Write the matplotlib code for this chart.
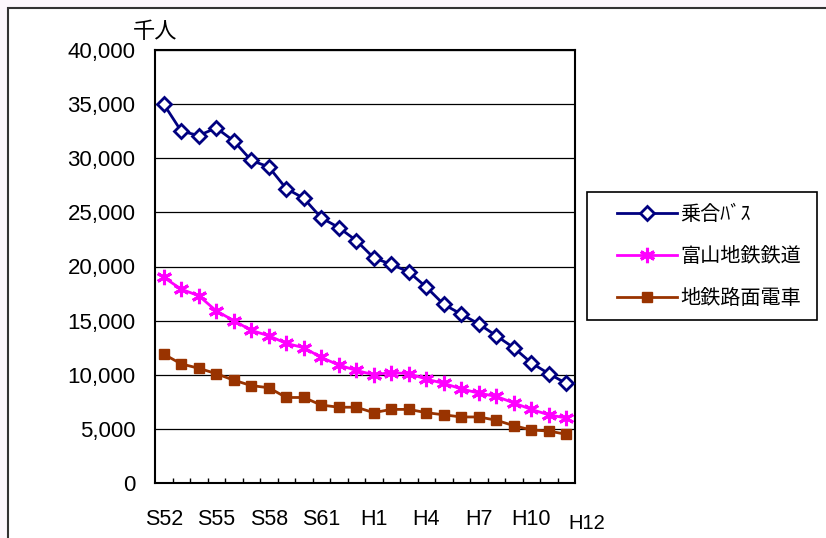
import matplotlib
matplotlib.use('Agg')
import matplotlib.pyplot as plt
from matplotlib.patches import Rectangle
from matplotlib.ticker import FuncFormatter, FixedLocator
import numpy as np

plt.rcParams['font.family'] = ['Liberation Sans', 'Noto Sans CJK JP', 'DejaVu Sans']

# ---- data (thousand persons) ----
years = ['S52', 'S53', 'S54', 'S55', 'S56', 'S57', 'S58', 'S59', 'S60', 'S61', 'S62', 'S63',
         'H1', 'H2', 'H3', 'H4', 'H5', 'H6', 'H7', 'H8', 'H9', 'H10', 'H11', 'H12']
bus = [35000, 32500, 32100, 32800, 31600, 29800, 29200, 27200, 26300, 24500, 23600, 22400,
       20800, 20200, 19500, 18100, 16500, 15600, 14700, 13600, 12500, 11100, 10100, 9200]
rail = [19000, 17900, 17300, 15900, 15000, 14100, 13600, 12900, 12500, 11600, 10900, 10400,
        10000, 10200, 10100, 9600, 9200, 8700, 8300, 8000, 7400, 6800, 6300, 6000]
tram = [11900, 11000, 10600, 10100, 9500, 9000, 8800, 7900, 7900, 7200, 7000, 7000,
        6500, 6800, 6800, 6500, 6300, 6100, 6100, 5800, 5300, 4900, 4800, 4500]
series_names = ['乗合ﾊﾞｽ', '富山地鉄鉄道', '地鉄路面電車']
shown_labels = ['S52', 'S55', 'S58', 'S61', 'H1', 'H4', 'H7', 'H10']
last_label = 'H12'
unit_label = '千人'

W, H = 826, 538
fig = plt.figure(figsize=(W / 100, H / 100), dpi=100)
fig.patch.set_facecolor('#fcf7fc')
frame = Rectangle((8 / W, -0.1), 1.2, (1 - 8 / H) + 0.1, transform=fig.transFigure,
                  facecolor='white', edgecolor='#333333', lw=1.5, zorder=-5)
fig.add_artist(frame)

ax = fig.add_axes([155 / W, 1 - 483 / H, (575 - 155) / W, (483 - 50) / H])
ax.set_facecolor('white')

x = np.arange(len(years))
ax.plot(x, bus, color='#000080', lw=2, marker='D', markersize=7, markerfacecolor='white',
        markeredgecolor='#000080', markeredgewidth=2, label=series_names[0], zorder=5)
ax.plot(x, rail, color='#ff00ff', lw=2, marker=(6, 2, 0), markersize=11,
        markeredgecolor='#ff00ff', markeredgewidth=2.2, label=series_names[1], zorder=4)
ax.plot(x, tram, color='#993300', lw=2, marker='s', markersize=7, markerfacecolor='#993300',
        markeredgecolor='#993300', label=series_names[2], zorder=3)

ax.set_xlim(-0.5, len(years) - 0.5)
ax.set_ylim(0, 40000)
ax.set_yticks(np.arange(0, 40001, 5000))
ax.yaxis.set_major_formatter(FuncFormatter(lambda v, p: f'{int(v):,}'))
ax.tick_params(axis='y', length=0, pad=14, labelsize=16)
ax.grid(axis='y', color='black', lw=0.9)
ax.set_axisbelow(True)

ax.set_xticks([years.index(l) for l in shown_labels])
ax.set_xticklabels(shown_labels)
ax.xaxis.set_minor_locator(FixedLocator(np.arange(0.5, len(years) - 1, 1)))
ax.tick_params(axis='x', which='major', length=0, pad=19, labelsize=15.5)
ax.tick_params(axis='x', which='minor', direction='in', length=3.5, width=1, top=False)

ax.annotate(last_label, xy=(years.index(last_label), 0), xycoords='data',
            xytext=(15, -29), textcoords='offset points', ha='center', va='center',
            fontsize=14.5, annotation_clip=False)

for s in ax.spines.values():
    s.set_color('black')
    s.set_linewidth(1.5)

fig.text(155 / W, 1 - 32 / H, unit_label, ha='center', va='center', fontsize=16,
         family=['Noto Sans CJK JP', 'DejaVu Sans'])

# legend box (drawn separately to match the reference's fixed-size frame)
legbox = Rectangle((587 / W, 1 - 320 / H), (817 - 587) / W, (320 - 192) / H,
                   transform=fig.transFigure, facecolor='white', edgecolor='black',
                   lw=1.2, zorder=1)
fig.add_artist(legbox)
handles, labels = ax.get_legend_handles_labels()
leg = fig.legend(handles, labels, loc='upper left', bbox_to_anchor=(617 / W, 1 - 204 / H),
                 bbox_transform=fig.transFigure, borderaxespad=0, frameon=False,
                 prop={'family': ['Noto Sans CJK JP', 'DejaVu Sans'], 'size': 14.5},
                 handlelength=3.0, handletextpad=0.15, labelspacing=1.05, borderpad=0)
leg.set_zorder(3)

fig.savefig('out.png', dpi=100, facecolor=fig.get_facecolor())
